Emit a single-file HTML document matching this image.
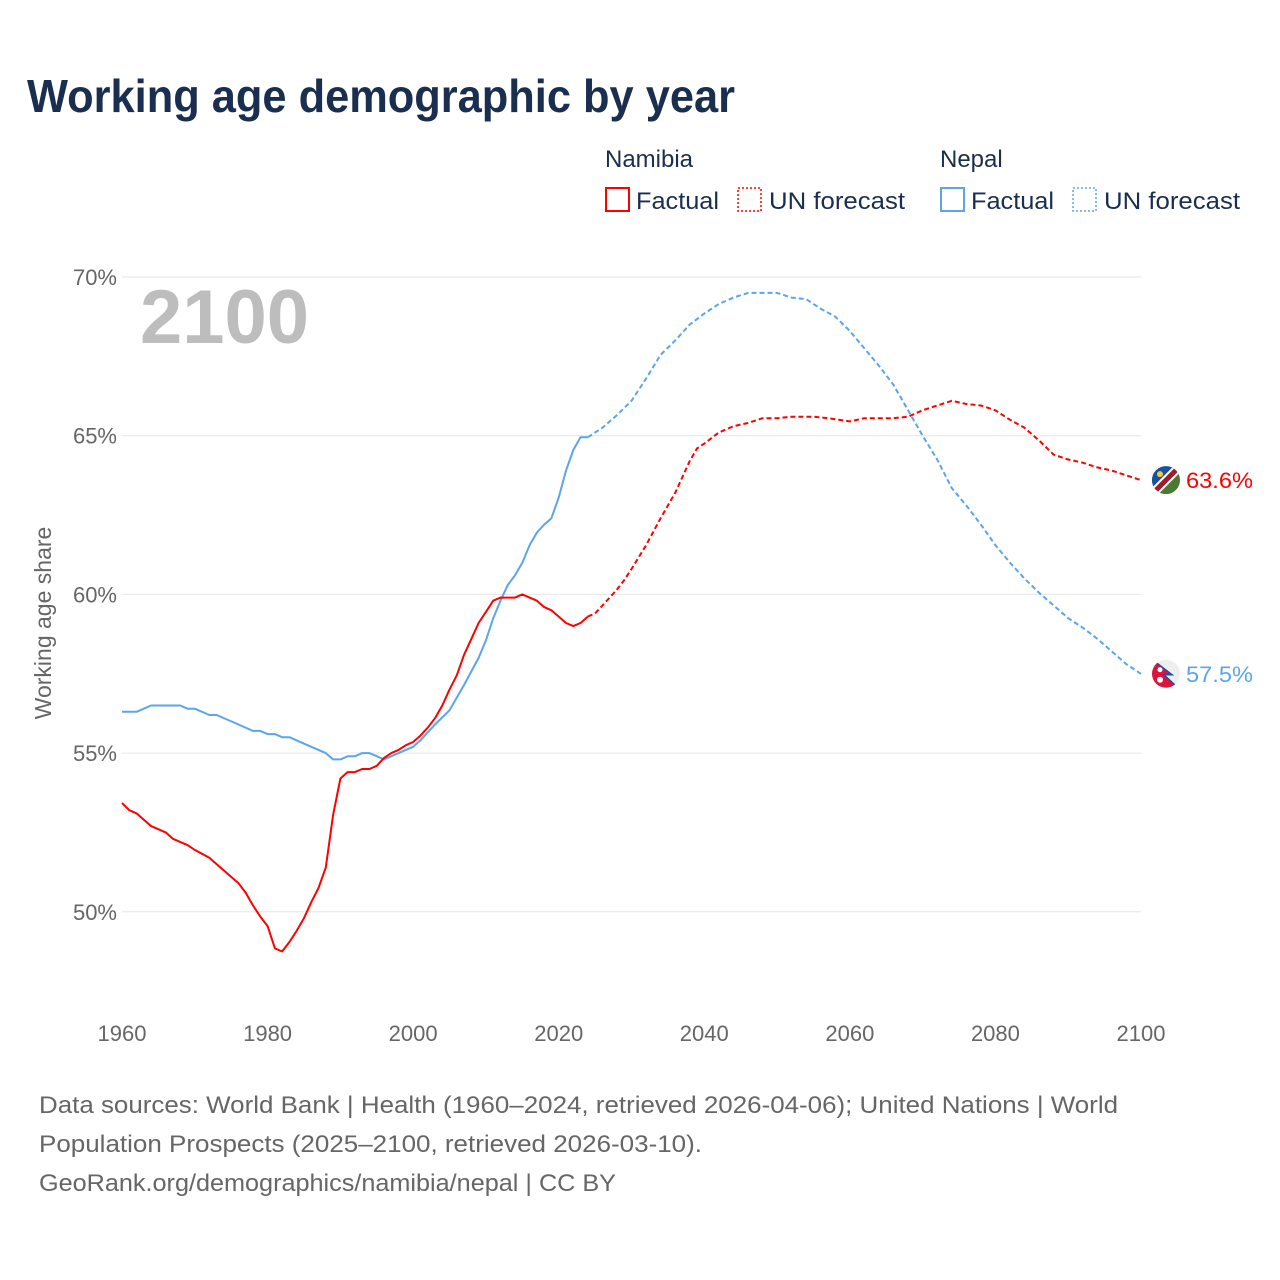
<!DOCTYPE html>
<html><head><meta charset="utf-8"><style>
body{margin:0;background:#fff;font-family:"Liberation Sans",sans-serif;}
#wrap{position:relative;width:1280px;height:1280px;overflow:hidden;}
</style></head><body>
<div id="wrap">
<svg id="chart" width="1280" height="1280"></svg>
</div>
<script>
const namYears=[1960,1961,1962,1964,1966,1967,1969,1970,1972,1974,1976,1977,1978,1979,1980,1981,1982,1983,1984,1985,1986,1987,1988,1989,1990,1991,1992,1993,1994,1995,1996,1997,1998,1999,2000,2001,2002,2003,2004,2005,2006,2007,2008,2009,2010,2011,2012,2013,2014,2015,2016,2017,2018,2019,2020,2021,2022,2023,2024];
const namVals=[53.43,53.2,53.1,52.7,52.5,52.3,52.1,51.95,51.7,51.3,50.9,50.6,50.2,49.85,49.55,48.85,48.75,49.05,49.4,49.8,50.3,50.75,51.4,53.05,54.2,54.4,54.4,54.5,54.5,54.6,54.85,55.0,55.1,55.25,55.35,55.55,55.8,56.1,56.5,57.0,57.45,58.1,58.6,59.1,59.45,59.8,59.9,59.9,59.9,60.0,59.9,59.8,59.6,59.5,59.3,59.1,59.0,59.1,59.3];
const namFcYears=[2024,2025,2026,2027,2028,2029,2030,2032,2034,2036,2038,2039,2040,2042,2044,2046,2048,2050,2052,2055,2057,2060,2062,2066,2068,2070,2072,2074,2076,2078,2080,2082,2084,2086,2088,2090,2092,2094,2096,2098,2100];
const namFcVals=[59.3,59.4,59.65,59.9,60.15,60.45,60.8,61.55,62.4,63.2,64.2,64.6,64.75,65.1,65.3,65.4,65.55,65.55,65.6,65.6,65.55,65.45,65.55,65.55,65.6,65.8,65.95,66.1,66.0,65.95,65.8,65.5,65.25,64.85,64.4,64.25,64.15,64.0,63.9,63.75,63.6];
const nepYears=[1960,1962,1964,1968,1969,1970,1972,1973,1976,1978,1979,1980,1981,1982,1983,1986,1988,1989,1990,1991,1992,1993,1994,1996,1998,2000,2001,2003,2005,2007,2009,2010,2011,2012,2013,2014,2015,2016,2017,2018,2019,2020,2021,2022,2023,2024];
const nepVals=[56.3,56.3,56.5,56.5,56.4,56.4,56.2,56.2,55.9,55.7,55.7,55.6,55.6,55.5,55.5,55.2,55.0,54.8,54.8,54.9,54.9,55.0,55.0,54.8,55.0,55.2,55.4,55.9,56.35,57.15,58.0,58.55,59.25,59.8,60.3,60.6,61.0,61.55,61.95,62.2,62.4,63.05,63.9,64.55,64.95,64.95];
const nepFcYears=[2024,2025,2026,2028,2030,2032,2034,2036,2038,2040,2042,2044,2046,2050,2052,2054,2056,2058,2060,2062,2064,2066,2068,2070,2072,2074,2076,2078,2080,2082,2084,2086,2088,2090,2092,2094,2096,2098,2100];
const nepFcVals=[64.95,65.1,65.25,65.65,66.1,66.8,67.55,68.0,68.5,68.85,69.15,69.35,69.5,69.5,69.35,69.3,69.0,68.75,68.3,67.75,67.2,66.6,65.8,65.0,64.25,63.35,62.8,62.2,61.55,61.0,60.5,60.05,59.65,59.25,58.95,58.6,58.2,57.8,57.5];
const xTicks=[1960,1980,2000,2020,2040,2060,2080,2100];
const yTicks=[50,55,60,65,70];

const svg=document.getElementById('chart');
const NS='http://www.w3.org/2000/svg';
const X=y=>122+(y-1960)*(1141-122)/140;
const Y=v=>277+(70-v)*31.74;
function mk(tag,attrs,parent){const e=document.createElementNS(NS,tag);for(const k in attrs)e.setAttribute(k,attrs[k]);(parent||svg).appendChild(e);return e;}
function txt(s,attrs){const e=mk('text',attrs);e.textContent=s;return e;}

let t=txt('Working age demographic by year',{x:27,y:112,'font-size':46,'font-weight':'bold',fill:'#1a2e4f',textLength:708,lengthAdjust:'spacingAndGlyphs'});


const lg=[[605,'Namibia','#ff0000'],[940,'Nepal','#5aa5ec']];
lg.forEach(([x,n,c])=>{
 let h=txt(n,{x:x,y:167,'font-size':24,fill:'#1a2e4f'});
 
 let r1=mk('rect',{x:x+1,y:188,width:23,height:23,fill:'none',stroke:c,'stroke-width':2});
 
 let l1=txt('Factual',{x:x+31,y:209,'font-size':24,fill:'#1a2e4f',textLength:83,lengthAdjust:'spacingAndGlyphs'});
 
 let r2=mk('rect',{x:x+133,y:188,width:23,height:23,fill:'none',stroke:c,'stroke-width':1.5,'stroke-dasharray':'2,2'});
 
 let l2=txt('UN forecast',{x:x+164,y:209,'font-size':24,fill:'#1a2e4f',textLength:136,lengthAdjust:'spacingAndGlyphs'});
 
});

yTicks.forEach(v=>{
 let g=mk('line',{x1:122,x2:1141,y1:Y(v),y2:Y(v),stroke:'#e6e6e6','stroke-width':1});
 
 let l=txt(v+'%',{x:117,y:Y(v)+8,'font-size':22,fill:'#666','text-anchor':'end'});
 
});
xTicks.forEach(v=>{
 let l=txt(String(v),{x:X(v),y:1041,'font-size':22,fill:'#666','text-anchor':'middle'});
 
});
let yt=txt('Working age share',{x:0,y:0,'font-size':23,fill:'#666','text-anchor':'middle',transform:'translate(51,623) rotate(-90)'});

let yr=txt('2100',{x:140,y:343,'font-size':76,'font-weight':'bold',fill:'#bdbdbd'});


function line(xs,vs,c,dash,name){
 const d=xs.map((x,i)=>(i?'L':'M')+X(x).toFixed(1)+','+Y(vs[i]).toFixed(1)).join('');
 const p=mk('path',{d:d,fill:'none',stroke:c,'stroke-width':2,'stroke-linejoin':'round'});
 if(dash)p.setAttribute('stroke-dasharray','5,3');
 
}
line(nepYears,nepVals,'#5aa5ec',false,'nepal-factual-line');
line(nepFcYears,nepFcVals,'#5aa5ec',true,'nepal-forecast-line');
line(namYears,namVals,'#ff0000',false,'namibia-factual-line');
line(namFcYears,namFcVals,'#ff0000',true,'namibia-forecast-line');

function flagNam(cx,cy){
 const g=mk('g',{});
 mk('clipPath',{id:'cn'},g);mk('circle',{cx:cx,cy:cy,r:14},g.lastChild);
 const h=mk('g',{'clip-path':'url(#cn)'},g);
 mk('rect',{x:cx-14,y:cy-14,width:28,height:28,fill:'#4a7a32'},h);
 mk('polygon',{points:`${cx-14},${cy-14} ${cx+14},${cy-14} ${cx-14},${cy+14}`,fill:'#1a4fa5'},h);
 mk('line',{x1:cx-16,y1:cy+16,x2:cx+16,y2:cy-16,stroke:'#fff','stroke-width':9},h);
 mk('line',{x1:cx-16,y1:cy+16,x2:cx+16,y2:cy-16,stroke:'#a31a2e','stroke-width':5},h);
 mk('circle',{cx:cx-6,cy:cy-6,r:3,fill:'#f6c928'},h);
}
function flagNep(cx,cy){
 const g=mk('g',{});
 mk('clipPath',{id:'cp'},g);mk('circle',{cx:cx,cy:cy,r:14},g.lastChild);
 const h=mk('g',{'clip-path':'url(#cp)'},g);
 mk('rect',{x:cx-14,y:cy-14,width:28,height:28,fill:'#eeeeee'},h);
 mk('path',{d:`M${cx-16},${cy-16} L${cx+6},${cy+1} L${cx-2},${cy+1} L${cx+14},${cy+16} L${cx-16},${cy+16}Z`,fill:'#dc143c',stroke:'#1a4fa5','stroke-width':1.5},h);
 mk('circle',{cx:cx-6,cy:cy-4,r:2.5,fill:'#fff'},h);
 mk('circle',{cx:cx-6,cy:cy+6,r:3,fill:'#fff'},h);
}
const nx=X(2100)+25;
flagNam(nx,Y(namFcVals[namFcVals.length-1]));
flagNep(nx,Y(nepFcVals[nepFcVals.length-1]));
let v1=txt(namFcVals[namFcVals.length-1].toFixed(1)+'%',{x:1186,y:Y(namFcVals[namFcVals.length-1])+8,'font-size':22,fill:'#ff0000',textLength:67,lengthAdjust:'spacingAndGlyphs'});

let v2=txt(nepFcVals[nepFcVals.length-1].toFixed(1)+'%',{x:1186,y:Y(nepFcVals[nepFcVals.length-1])+8,'font-size':22,fill:'#5aa5ec',textLength:67,lengthAdjust:'spacingAndGlyphs'});


const foot=[['Data sources: World Bank | Health (1960–2024, retrieved 2026-04-06); United Nations | World',1079],['Population Prospects (2025–2100, retrieved 2026-03-10).',663],['GeoRank.org/demographics/namibia/nepal | CC BY',577]];
foot.forEach(([s,w],i)=>{
 let f=txt(s,{x:39,y:1113+i*39,'font-size':24,fill:'#666',textLength:w,lengthAdjust:'spacingAndGlyphs'});
 
});
</script>
</body></html>
